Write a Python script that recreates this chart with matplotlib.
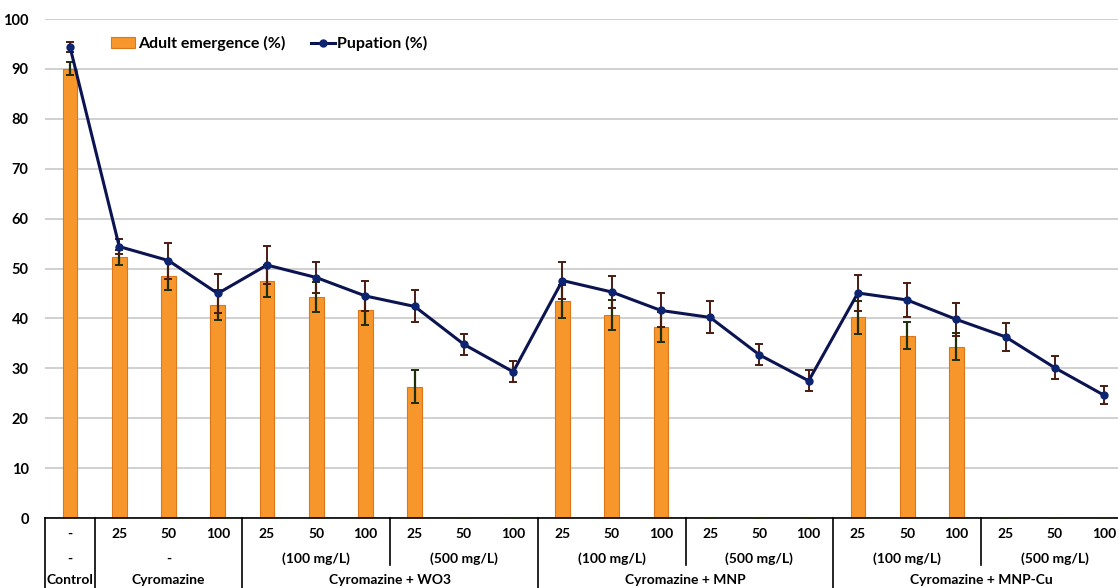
import numpy as np
import matplotlib.pyplot as plt

plt.rcParams['font.family'] = ['Lato', 'DejaVu Sans']
plt.rcParams['font.weight'] = 'bold'

# x axis rows (bottom table)
doses = ['-', '25', '50', '100', '25', '50', '100', '25', '50', '100',
         '25', '50', '100', '25', '50', '100', '25', '50', '100', '25', '50', '100']
sub_labels = ['-', '-', '(100 mg/L)', '(500 mg/L)', '(100 mg/L)', '(500 mg/L)',
              '(100 mg/L)', '(500 mg/L)']
sub_spans = [(0, 0), (1, 3), (4, 6), (7, 9), (10, 12), (13, 15), (16, 18), (19, 21)]
groups = ['Control', 'Cyromazine', 'Cyromazine + WO3', 'Cyromazine + MNP', 'Cyromazine + MNP-Cu']
group_spans = [(0, 0), (1, 3), (4, 9), (10, 15), (16, 21)]

emergence = [90.0, 52.3, 48.6, 42.7, 47.5, 44.3, 41.7, 26.3, 0, 0,
             43.4, 40.7, 38.3, 0, 0, 0, 40.2, 36.5, 34.3, 0, 0, 0]
emergence_err = [1.3, 1.5, 3.0, 3.0, 3.3, 3.0, 3.0, 3.3, 0, 0,
                 3.3, 3.0, 3.0, 0, 0, 0, 3.3, 2.7, 2.7, 0, 0, 0]
pupation = [94.4, 54.4, 51.6, 45.0, 50.7, 48.2, 44.5, 42.4, 34.8, 29.3,
            47.6, 45.3, 41.6, 40.2, 32.7, 27.5, 45.1, 43.7, 39.8, 36.3, 30.1, 24.6]
pupation_err = [1.0, 1.5, 3.6, 4.0, 3.8, 3.2, 3.1, 3.2, 2.1, 2.1,
                3.8, 3.3, 3.4, 3.2, 2.1, 2.1, 3.7, 3.5, 3.3, 2.8, 2.3, 1.8]

x = np.arange(len(doses))

fig = plt.figure(figsize=(11.18, 5.88), dpi=100)
ax = fig.add_axes([0.0406, 0.119, 0.969, 0.8486])

bars = ax.bar(x, emergence, width=0.3, color='#F7962A', edgecolor='#D9771A', linewidth=0.8,
              label='Adult emergence (%)', zorder=2)
ax.errorbar(x, emergence, yerr=emergence_err, fmt='none', ecolor='#1E2E0A',
            elinewidth=1.6, capsize=3, capthick=1.4, zorder=3)
ax.errorbar(x, pupation, yerr=pupation_err, fmt='none', ecolor='#4A1C10',
            elinewidth=1.4, capsize=3, capthick=1.4, zorder=4)
line, = ax.plot(x, pupation, color='#0B1450', linewidth=2.2, marker='o', markersize=5,
                markerfacecolor='#0D2470', markeredgecolor='#0D2470', label='Pupation (%)', zorder=5)

ax.set_xlim(-0.5, len(doses) - 0.5)
ax.set_ylim(0, 100)
ax.set_yticks(np.arange(0, 101, 10))
ax.yaxis.grid(True, color='#C8C8C8', linewidth=1.2)
ax.set_axisbelow(True)
ax.tick_params(axis='y', length=0, labelsize=10.5, pad=12)
ax.tick_params(axis='x', length=0, labelbottom=False)
for s in ['top', 'right', 'left']:
    ax.spines[s].set_visible(False)
ax.spines['bottom'].set_color('black')
ax.spines['bottom'].set_linewidth(1.2)

# category table under the axis
tr = ax.transData
y_row1, y_row2, y_row3, y_end = -3.2, -8.2, -12.5, -14.2
kw = dict(transform=tr, ha='center', va='center', fontsize=10, fontweight='bold', clip_on=False)
for xi, d in zip(x, doses):
    ax.text(xi, y_row1, d, **kw)
for lab, (a, b) in zip(sub_labels, sub_spans):
    ax.text((a + b) / 2, y_row2, lab, **kw)
for lab, (a, b) in zip(groups, group_spans):
    ax.text((a + b) / 2, y_row3, lab, **kw)

line_kw = dict(color='black', linewidth=1.2, clip_on=False, transform=tr)
ax.plot([-0.5, -0.5], [0, y_end], **line_kw)
for a, b in group_spans[1:]:
    ax.plot([a - 0.5, a - 0.5], [0, y_end], **line_kw)
for a, b in sub_spans[3::2]:
    ax.plot([a - 0.5, a - 0.5], [0, -9.5], **line_kw)

ax.legend([bars, line], ['Adult emergence (%)', 'Pupation (%)'],
          loc='upper left', bbox_to_anchor=(0.052, 0.985), ncol=2, frameon=False,
          fontsize=11.5, handlelength=1.5, columnspacing=1.6, handletextpad=0.15,
          borderaxespad=0.2)

fig.savefig('out.png', dpi=100)
